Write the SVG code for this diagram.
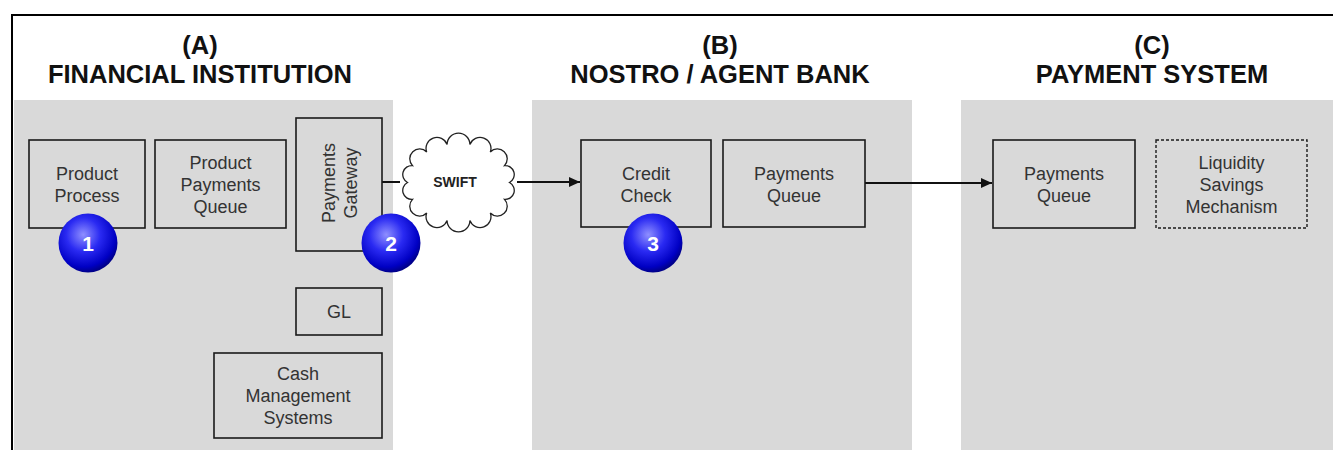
<svg xmlns="http://www.w3.org/2000/svg" width="1333" height="450" viewBox="0 0 1333 450">
<style>
text{font-family:"Liberation Sans",Arial,Helvetica,sans-serif}
.panel{fill:#d9d9d9}
.title{font-size:25.5px;font-weight:bold;fill:#111;text-anchor:middle}
.box{fill:#d9d9d9;stroke:#1a1a1a;stroke-width:1.6}
.dash{fill:#d9d9d9;stroke:#1a1a1a;stroke-width:1.4;stroke-dasharray:3 2}
.lbl{font-size:18px;fill:#333;text-anchor:middle}
.num{font-size:21px;font-weight:bold;fill:#fff;text-anchor:middle}
.conn{stroke:#111;stroke-width:2;fill:none}
</style>
<defs>
<radialGradient id="ball" cx="42%" cy="36%" r="64%">
<stop offset="0" stop-color="#8f8fff"/>
<stop offset="0.45" stop-color="#2a2af2"/>
<stop offset="0.85" stop-color="#0000c4"/>
<stop offset="1" stop-color="#00008a"/>
</radialGradient>
<marker id="arr" markerUnits="userSpaceOnUse" markerWidth="12" markerHeight="10" refX="11" refY="5" orient="auto">
<path d="M0,0 L11,5 L0,10 Z" fill="#111"/>
</marker>
</defs>
<rect width="1333" height="450" fill="#fff"/>
<path d="M12,450 V15 H1333" fill="none" stroke="#000" stroke-width="2"/>
<g id="panels">
<rect class="panel" x="14" y="100" width="379" height="350"/>
<rect class="panel" x="532" y="100" width="380" height="350"/>
<rect class="panel" x="961" y="100" width="372" height="350"/>
</g>
<g id="titles">
<text class="title" x="200" y="54">(A)</text>
<text class="title" x="200" y="83">FINANCIAL INSTITUTION</text>
<text class="title" x="720" y="54">(B)</text>
<text class="title" x="720" y="83">NOSTRO / AGENT BANK</text>
<text class="title" x="1152" y="54">(C)</text>
<text class="title" x="1152" y="83">PAYMENT SYSTEM</text>
</g>
<g id="connectors">
<line class="conn" x1="382" y1="182" x2="400" y2="182"/>
<line class="conn" x1="517" y1="182" x2="580" y2="182" marker-end="url(#arr)"/>
<line class="conn" x1="865" y1="183" x2="992" y2="183" marker-end="url(#arr)"/>
</g>
<g id="product-process">
<rect class="box" x="29" y="140" width="116" height="88"/>
<text class="lbl" x="87" y="180">Product</text>
<text class="lbl" x="87" y="202">Process</text>
</g>
<g id="product-payments-queue">
<rect class="box" x="155" y="140" width="131" height="88"/>
<text class="lbl" x="220.5" y="169">Product</text>
<text class="lbl" x="220.5" y="191">Payments</text>
<text class="lbl" x="220.5" y="213">Queue</text>
</g>
<g id="payments-gateway">
<rect class="box" x="296" y="118" width="86" height="133"/>
<g transform="translate(339,183) rotate(-90)">
<text class="lbl" x="0" y="-4.5">Payments</text>
<text class="lbl" x="0" y="17.5">Gateway</text>
</g>
</g>
<g id="gl">
<rect class="box" x="296" y="288" width="86" height="47"/>
<text class="lbl" x="339" y="318">GL</text>
</g>
<g id="cash-management">
<rect class="box" x="214" y="353" width="168" height="85"/>
<text class="lbl" x="298" y="380">Cash</text>
<text class="lbl" x="298" y="402">Management</text>
<text class="lbl" x="298" y="424">Systems</text>
</g>
<g id="swift">
<path d="M509.5,182.5 A9,9 0 0 1 504.5,199.4 A9,9 0 0 1 490.3,213 A9,9 0 0 1 469.9,220.5 A9,9 0 0 1 447.1,220.5 A9,9 0 0 1 426.7,213 A9,9 0 0 1 412.5,199.4 A9,9 0 0 1 407.5,182.5 A9,9 0 0 1 412.5,165.6 A9,9 0 0 1 426.7,152 A9,9 0 0 1 447.1,144.5 A9,9 0 0 1 469.9,144.5 A9,9 0 0 1 490.3,152 A9,9 0 0 1 504.5,165.6 A9,9 0 0 1 509.5,182.5 Z" fill="#fff" stroke="#222" stroke-width="1.3"/>
<text x="455" y="187" font-size="14" font-weight="bold" fill="#222" text-anchor="middle">SWIFT</text>
</g>
<g id="credit-check">
<rect class="box" x="581" y="140" width="130" height="87"/>
<text class="lbl" x="646" y="180">Credit</text>
<text class="lbl" x="646" y="202">Check</text>
</g>
<g id="payments-queue-b">
<rect class="box" x="723" y="140" width="142" height="87"/>
<text class="lbl" x="794" y="180">Payments</text>
<text class="lbl" x="794" y="202">Queue</text>
</g>
<g id="payments-queue-c">
<rect class="box" x="993" y="140" width="142" height="88"/>
<text class="lbl" x="1064" y="180">Payments</text>
<text class="lbl" x="1064" y="202">Queue</text>
</g>
<g id="liquidity-savings">
<rect class="dash" x="1156" y="140" width="151" height="88"/>
<text class="lbl" x="1231.5" y="169">Liquidity</text>
<text class="lbl" x="1231.5" y="191">Savings</text>
<text class="lbl" x="1231.5" y="213">Mechanism</text>
</g>
<g id="badge-1">
<circle cx="88" cy="243" r="29.5" fill="url(#ball)"/>
<text class="num" x="88" y="251">1</text>
</g>
<g id="badge-2">
<circle cx="391" cy="243" r="29.5" fill="url(#ball)"/>
<text class="num" x="391" y="251">2</text>
</g>
<g id="badge-3">
<circle cx="653" cy="243" r="29.5" fill="url(#ball)"/>
<text class="num" x="653" y="251">3</text>
</g>
</svg>
